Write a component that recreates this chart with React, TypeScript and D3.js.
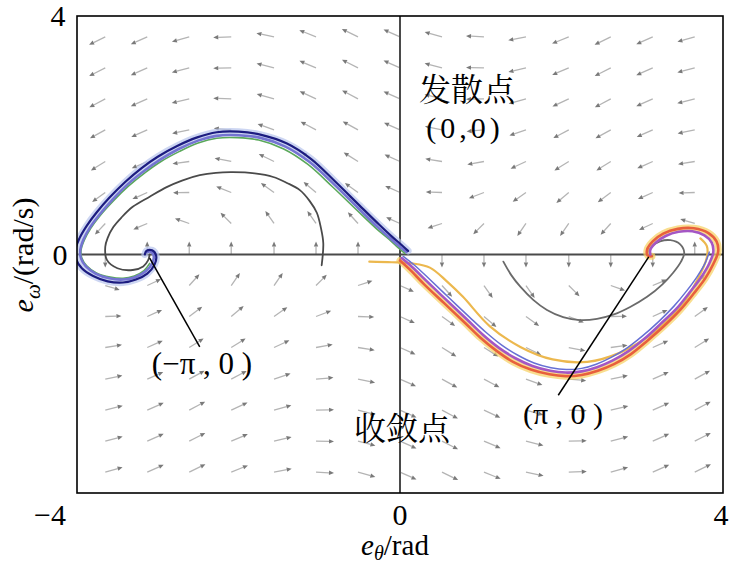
import React from "react";
import * as d3 from "d3";

const W = 730;
const H = 567;
const M = { left: 77, right: 723, top: 16, bottom: 493 };

const xDomain: [number, number] = [-4, 4];
const yDomain: [number, number] = [-4, 4];
const xTickLabels = ["\u22124", "0", "4"];
const yTickLabels = ["4", "0"];

// quiver grid (tail positions) and arrow directions (deg, 0 = right, 90 = up)
const fieldTheta = [-3.65, -3.13, -2.61, -2.09, -1.56, -1.04, -0.52, 0, 0.52, 1.04, 1.56, 2.09, 2.61, 3.13, 3.65];
const fieldOmega = [3.65, 3.13, 2.61, 2.09, 1.56, 1.04, 0.52, 0, -0.52, -1.04, -1.56, -2.09, -2.61, -3.13, -3.65];
const fieldAngle: (number | null)[][] = [
  [-154, -156, -164, -178, 168, 158, 154, 156, 164, 177, -169, -158, -154, -156, -164],
  [-153, -156, -165, -179, 166, 157, 153, 156, 165, 179, -167, -157, -153, -156, -165],
  [-152, -156, -167, 178, 164, 155, 152, 156, 166, -179, -164, -155, -152, -156, -166],
  [-151, -156, -168, 175, 160, 152, 151, 156, 168, -175, -161, -152, -151, -156, -168],
  [-148, -156, -172, 169, 154, 148, 148, 156, 171, -170, -155, -148, -148, -156, -171],
  [-144, -156, -179, 158, 144, 140, 144, 156, 178, -159, -145, -140, -143, -156, -178],
  [-133, -157, 161, 135, 125, 125, 132, 156, -162, -135, -125, -125, -132, -155, 163],
  [-90, 90, 90, 90, 90, 90, 90, null, -90, -90, -90, -90, -90, -90, 90],
  [-17, 25, 48, 55, 55, 45, 18, -24, -48, -55, -55, -45, -19, 23, 47],
  [2, 24, 37, 40, 35, 21, -2, -24, -36, -40, -36, -22, 1, 24, 36],
  [9, 24, 32, 32, 25, 10, -9, -24, -32, -32, -26, -11, 8, 24, 32],
  [12, 24, 29, 28, 19, 5, -12, -24, -29, -28, -20, -5, 12, 24, 29],
  [14, 24, 28, 25, 16, 1, -14, -24, -28, -25, -16, -2, 13, 24, 28],
  [15, 24, 27, 23, 13, -1, -15, -24, -27, -23, -14, 1, 15, 24, 27],
  [16, 24, 26, 22, 11, -3, -16, -24, -26, -22, -12, 2, 16, 24, 26],
];
// relative arrow length per row (arrows near the e_omega = 0 line are shorter)
const fieldRowLength = [1, 1, 1, 0.97, 0.94, 0.9, 0.84, 0.72, 0.84, 0.9, 0.94, 0.97, 1, 1, 1];

// trajectories [e_theta, e_omega]
const leftNavy: [number, number][] = [
  [0.10, 0.06], [0.02, 0.16], [-0.1, 0.3], [-0.25, 0.49], [-0.5, 0.82], [-0.8, 1.22], [-1.1, 1.6],
  [-1.4, 1.86], [-1.73, 2.01], [-2.0, 2.06], [-2.27, 2.05], [-2.52, 1.96], [-2.76, 1.82], [-3.0, 1.64],
  [-3.2, 1.45], [-3.4, 1.22], [-3.6, 0.95], [-3.76, 0.7], [-3.88, 0.48], [-3.97, 0.27], [-4.02, 0.08],
  [-4.01, -0.08], [-3.94, -0.23], [-3.8, -0.36], [-3.62, -0.45], [-3.43, -0.47], [-3.27, -0.42],
  [-3.13, -0.32], [-3.04, -0.17], [-3.02, -0.02], [-3.07, 0.07], [-3.14, 0.06], [-3.16, 0.0],
];
const leftLavender: [number, number][] = [
  [0.08, 0.04], [0.0, 0.13], [-0.12, 0.27], [-0.27, 0.45], [-0.52, 0.78], [-0.82, 1.18], [-1.12, 1.55],
  [-1.42, 1.81], [-1.74, 1.96], [-2.0, 2.0], [-2.27, 1.99], [-2.5, 1.91], [-2.74, 1.77], [-2.97, 1.59],
  [-3.17, 1.4], [-3.37, 1.18], [-3.56, 0.92], [-3.72, 0.67], [-3.84, 0.45], [-3.92, 0.25], [-3.96, 0.07],
  [-3.95, -0.07], [-3.89, -0.2], [-3.77, -0.32], [-3.6, -0.4], [-3.43, -0.42], [-3.28, -0.38],
  [-3.15, -0.28], [-3.07, -0.15], [-3.05, -0.02], [-3.09, 0.05], [-3.14, 0.04],
];
const leftGreen: [number, number][] = [
  [0.06, 0.02], [-0.02, 0.11], [-0.13, 0.25], [-0.29, 0.43], [-0.54, 0.75], [-0.84, 1.14], [-1.14, 1.51],
  [-1.44, 1.77], [-1.75, 1.92], [-2.01, 1.96], [-2.27, 1.95], [-2.5, 1.87], [-2.73, 1.73], [-2.96, 1.56],
  [-3.16, 1.37], [-3.36, 1.15], [-3.55, 0.9], [-3.71, 0.66], [-3.83, 0.44], [-3.91, 0.24], [-3.95, 0.07],
  [-3.94, -0.06], [-3.88, -0.19], [-3.76, -0.31], [-3.59, -0.38], [-3.43, -0.4], [-3.29, -0.36],
  [-3.17, -0.27], [-3.1, -0.15],
];
const leftGray: [number, number][] = [
  [-0.97, -0.18], [-0.95, 0.19], [-0.98, 0.45], [-1.03, 0.7], [-1.12, 0.9], [-1.24, 1.08], [-1.4, 1.2],
  [-1.57, 1.3], [-1.8, 1.36], [-2.07, 1.38], [-2.28, 1.37], [-2.48, 1.33], [-2.7, 1.24], [-2.89, 1.13],
  [-3.1, 0.97], [-3.31, 0.8], [-3.45, 0.62], [-3.55, 0.46], [-3.62, 0.28], [-3.65, 0.13], [-3.63, -0.09],
  [-3.5, -0.23], [-3.31, -0.26], [-3.18, -0.2], [-3.12, -0.1], [-3.1, 0.0],
];
const rightRed: [number, number][] = [
  [0.0, -0.1], [0.12, -0.25], [0.3, -0.5], [0.55, -0.82], [0.8, -1.14], [1.0, -1.4], [1.2, -1.62],
  [1.4, -1.8], [1.62, -1.93], [1.85, -2.01], [2.05, -2.04], [2.25, -2.02], [2.45, -1.95], [2.65, -1.84],
  [2.86, -1.67], [3.06, -1.45], [3.27, -1.2], [3.47, -0.93], [3.64, -0.65], [3.78, -0.4], [3.88, -0.16],
  [3.94, 0.05], [3.92, 0.22], [3.82, 0.36], [3.64, 0.44], [3.44, 0.43], [3.26, 0.35], [3.13, 0.22],
  [3.06, 0.08], [3.07, -0.02], [3.12, -0.03],
];
const rightPurple: [number, number][] = [
  [0.02, -0.06], [0.15, -0.21], [0.34, -0.46], [0.58, -0.77], [0.83, -1.09], [1.03, -1.35], [1.23, -1.57],
  [1.43, -1.74], [1.64, -1.87], [1.86, -1.95], [2.05, -1.98], [2.25, -1.96], [2.44, -1.89], [2.63, -1.78],
  [2.83, -1.62], [3.03, -1.41], [3.23, -1.16], [3.43, -0.9], [3.59, -0.63], [3.73, -0.38], [3.83, -0.15],
  [3.88, 0.04], [3.86, 0.2], [3.77, 0.32], [3.62, 0.39], [3.45, 0.38], [3.29, 0.31], [3.17, 0.2],
  [3.1, 0.08], [3.1, 0.0],
];
const rightBlue: [number, number][] = [
  [0.04, -0.03], [0.18, -0.18], [0.37, -0.42], [0.61, -0.73], [0.86, -1.05], [1.06, -1.3], [1.26, -1.52],
  [1.46, -1.69], [1.66, -1.82], [1.87, -1.9], [2.06, -1.93], [2.25, -1.91], [2.43, -1.84], [2.61, -1.73],
  [2.8, -1.58], [3.0, -1.37], [3.2, -1.13], [3.39, -0.87], [3.55, -0.61], [3.68, -0.37], [3.78, -0.14],
  [3.83, 0.04],
];
const rightTan: [number, number][] = [
  [-0.38, -0.12], [-0.1, -0.13], [0.15, -0.15], [0.37, -0.22], [0.58, -0.45], [0.78, -0.71], [1.11, -1.2],
  [1.49, -1.55], [1.89, -1.76], [2.32, -1.8], [2.72, -1.65], [3.13, -1.32], [3.47, -0.88], [3.68, -0.43],
  [3.8, -0.05], [3.8, 0.14], [3.72, 0.27],
];
const rightGray: [number, number][] = [
  [1.28, -0.12], [1.38, -0.35], [1.49, -0.54], [1.65, -0.76], [1.82, -0.93], [2.02, -1.05], [2.23, -1.1],
  [2.44, -1.08], [2.64, -1.01], [2.85, -0.88], [3.06, -0.71], [3.25, -0.5], [3.38, -0.31], [3.48, -0.12],
  [3.52, 0.03], [3.47, 0.17], [3.35, 0.24], [3.22, 0.22], [3.12, 0.14], [3.08, 0.05], [3.12, -0.01],
];

const pointerLeft: [number, number][] = [[-3.1, -0.06], [-2.48, -1.55]];
const pointerRight: [number, number][] = [[3.08, -0.04], [1.96, -2.36]];

const serif = "'Liberation Serif', 'Times New Roman', serif";
const cjk = "'Noto Serif CJK SC', 'Noto Sans CJK SC', sans-serif";

export default function App() {
  const x = d3.scaleLinear().domain(xDomain).range([M.left, M.right]);
  const y = d3.scaleLinear().domain(yDomain).range([M.bottom, M.top]);
  const curved = d3
    .line<[number, number]>()
    .x((d) => x(d[0]))
    .y((d) => y(d[1]))
    .curve(d3.curveCatmullRom.alpha(0.5));
  const straight = d3
    .line<[number, number]>()
    .x((d) => x(d[0]))
    .y((d) => y(d[1]));

  const arrows: JSX.Element[] = [];
  const baseLen = 18;
  fieldOmega.forEach((w, j) => {
    fieldTheta.forEach((t, k) => {
      const ang = fieldAngle[j][k];
      if (ang === null) return;
      const L = baseLen * fieldRowLength[j];
      const a = (ang * Math.PI) / 180;
      const dx = Math.cos(a);
      const dy = -Math.sin(a);
      const x0 = x(t);
      const y0 = y(w);
      const x1 = x0 + dx * L;
      const y1 = y0 + dy * L;
      const hx = x1 - dx * 5;
      const hy = y1 - dy * 5;
      const px = -dy * 2.2;
      const py = dx * 2.2;
      arrows.push(
        <g key={`a${j}-${k}`}>
          <line x1={x0} y1={y0} x2={hx} y2={hy} stroke="#b4b4b4" strokeWidth={1.3} />
          <path d={`M${x1},${y1}L${hx + px},${hy + py}L${hx - px},${hy - py}Z`} fill="#7a7a7a" />
        </g>
      );
    });
  });

  const traj = (d: [number, number][], color: string, width: number, opacity = 1) => (
    <path d={curved(d) || ""} fill="none" stroke={color} strokeWidth={width} strokeOpacity={opacity} strokeLinecap="round" strokeLinejoin="round" />
  );

  return (
    <div style={{ position: "fixed", left: 0, top: 0 }}>
      <svg width={W} height={H} viewBox={`0 0 ${W} ${H}`} style={{ display: "block", background: "#fff" }}>
        <defs>
          <clipPath id="plot">
            <rect x={M.left} y={M.top} width={M.right - M.left} height={M.bottom - M.top} />
          </clipPath>
        </defs>
        <g clipPath="url(#plot)">
          {arrows}
          <line x1={x(0)} x2={x(0)} y1={M.top} y2={M.bottom} stroke="#4a4a4a" strokeWidth={2} />
          <line x1={M.left} x2={M.right} y1={y(0)} y2={y(0)} stroke="#4a4a4a" strokeWidth={2} />
          {traj(leftGray, "#4a4a4a", 1.8)}
          {traj(rightGray, "#6a6a6a", 1.8)}
          {traj(leftNavy, "#b8c4ec", 7, 0.7)}
          {traj(leftGreen, "#5aa85a", 1.6)}
          {traj(leftLavender, "#7474d2", 2.6)}
          {traj(leftNavy, "#1c1c80", 2.2)}
          {traj(rightRed, "#f6d060", 7, 0.7)}
          {traj(rightTan, "#ecb84e", 2.2)}
          {traj(rightRed, "#e8603c", 2.6)}
          {traj(rightPurple, "#a456c4", 2.6)}
          {traj(rightBlue, "#6670d4", 1.5)}
          <path d={straight(pointerLeft) || ""} stroke="#000" strokeWidth={1.5} fill="none" />
          <path d={straight(pointerRight) || ""} stroke="#000" strokeWidth={1.5} fill="none" />
        </g>
        <rect x={M.left} y={M.top} width={M.right - M.left} height={M.bottom - M.top} fill="none" stroke="#000" strokeWidth={1.6} />

        <g fontFamily={serif} fontSize={30} fill="#000">
          <text x={58} y={26} textAnchor="middle">{yTickLabels[0]}</text>
          <text x={60} y={265} textAnchor="middle">{yTickLabels[1]}</text>
          <text x={50} y={525} textAnchor="middle">{xTickLabels[0]}</text>
          <text x={400} y={525} textAnchor="middle">{xTickLabels[1]}</text>
          <text x={721} y={525} textAnchor="middle">{xTickLabels[2]}</text>
        </g>

        <text x={395} y={555} textAnchor="middle" fontFamily={serif} fontSize={29}>
          <tspan fontStyle="italic">e</tspan>
          <tspan fontStyle="italic" fontSize={20} dy={5}>θ</tspan>
          <tspan dy={-5}>/rad</tspan>
        </text>
        <text transform="translate(33,255) rotate(-90)" textAnchor="middle" fontFamily={serif} fontSize={30}>
          <tspan fontStyle="italic">e</tspan>
          <tspan fontStyle="italic" fontSize={21} dy={7}>ω</tspan>
          <tspan dy={-7}>/(rad/s)</tspan>
        </text>

        <text x={467} y={101} textAnchor="middle" fontFamily={cjk} fontSize={32}>发散点</text>
        <text x={465} y={138} textAnchor="middle" fontFamily={serif} fontSize={30} letterSpacing={4}>(0,0)</text>
        <text x={402} y={440} textAnchor="middle" fontFamily={cjk} fontSize={32}>收敛点</text>
        <text x={202} y={374} textAnchor="middle" fontFamily={serif} fontSize={31}>(−π , 0 )</text>
        <text x={563} y={424} textAnchor="middle" fontFamily={serif} fontSize={30}>(π , 0 )</text>
      </svg>
    </div>
  );
}
